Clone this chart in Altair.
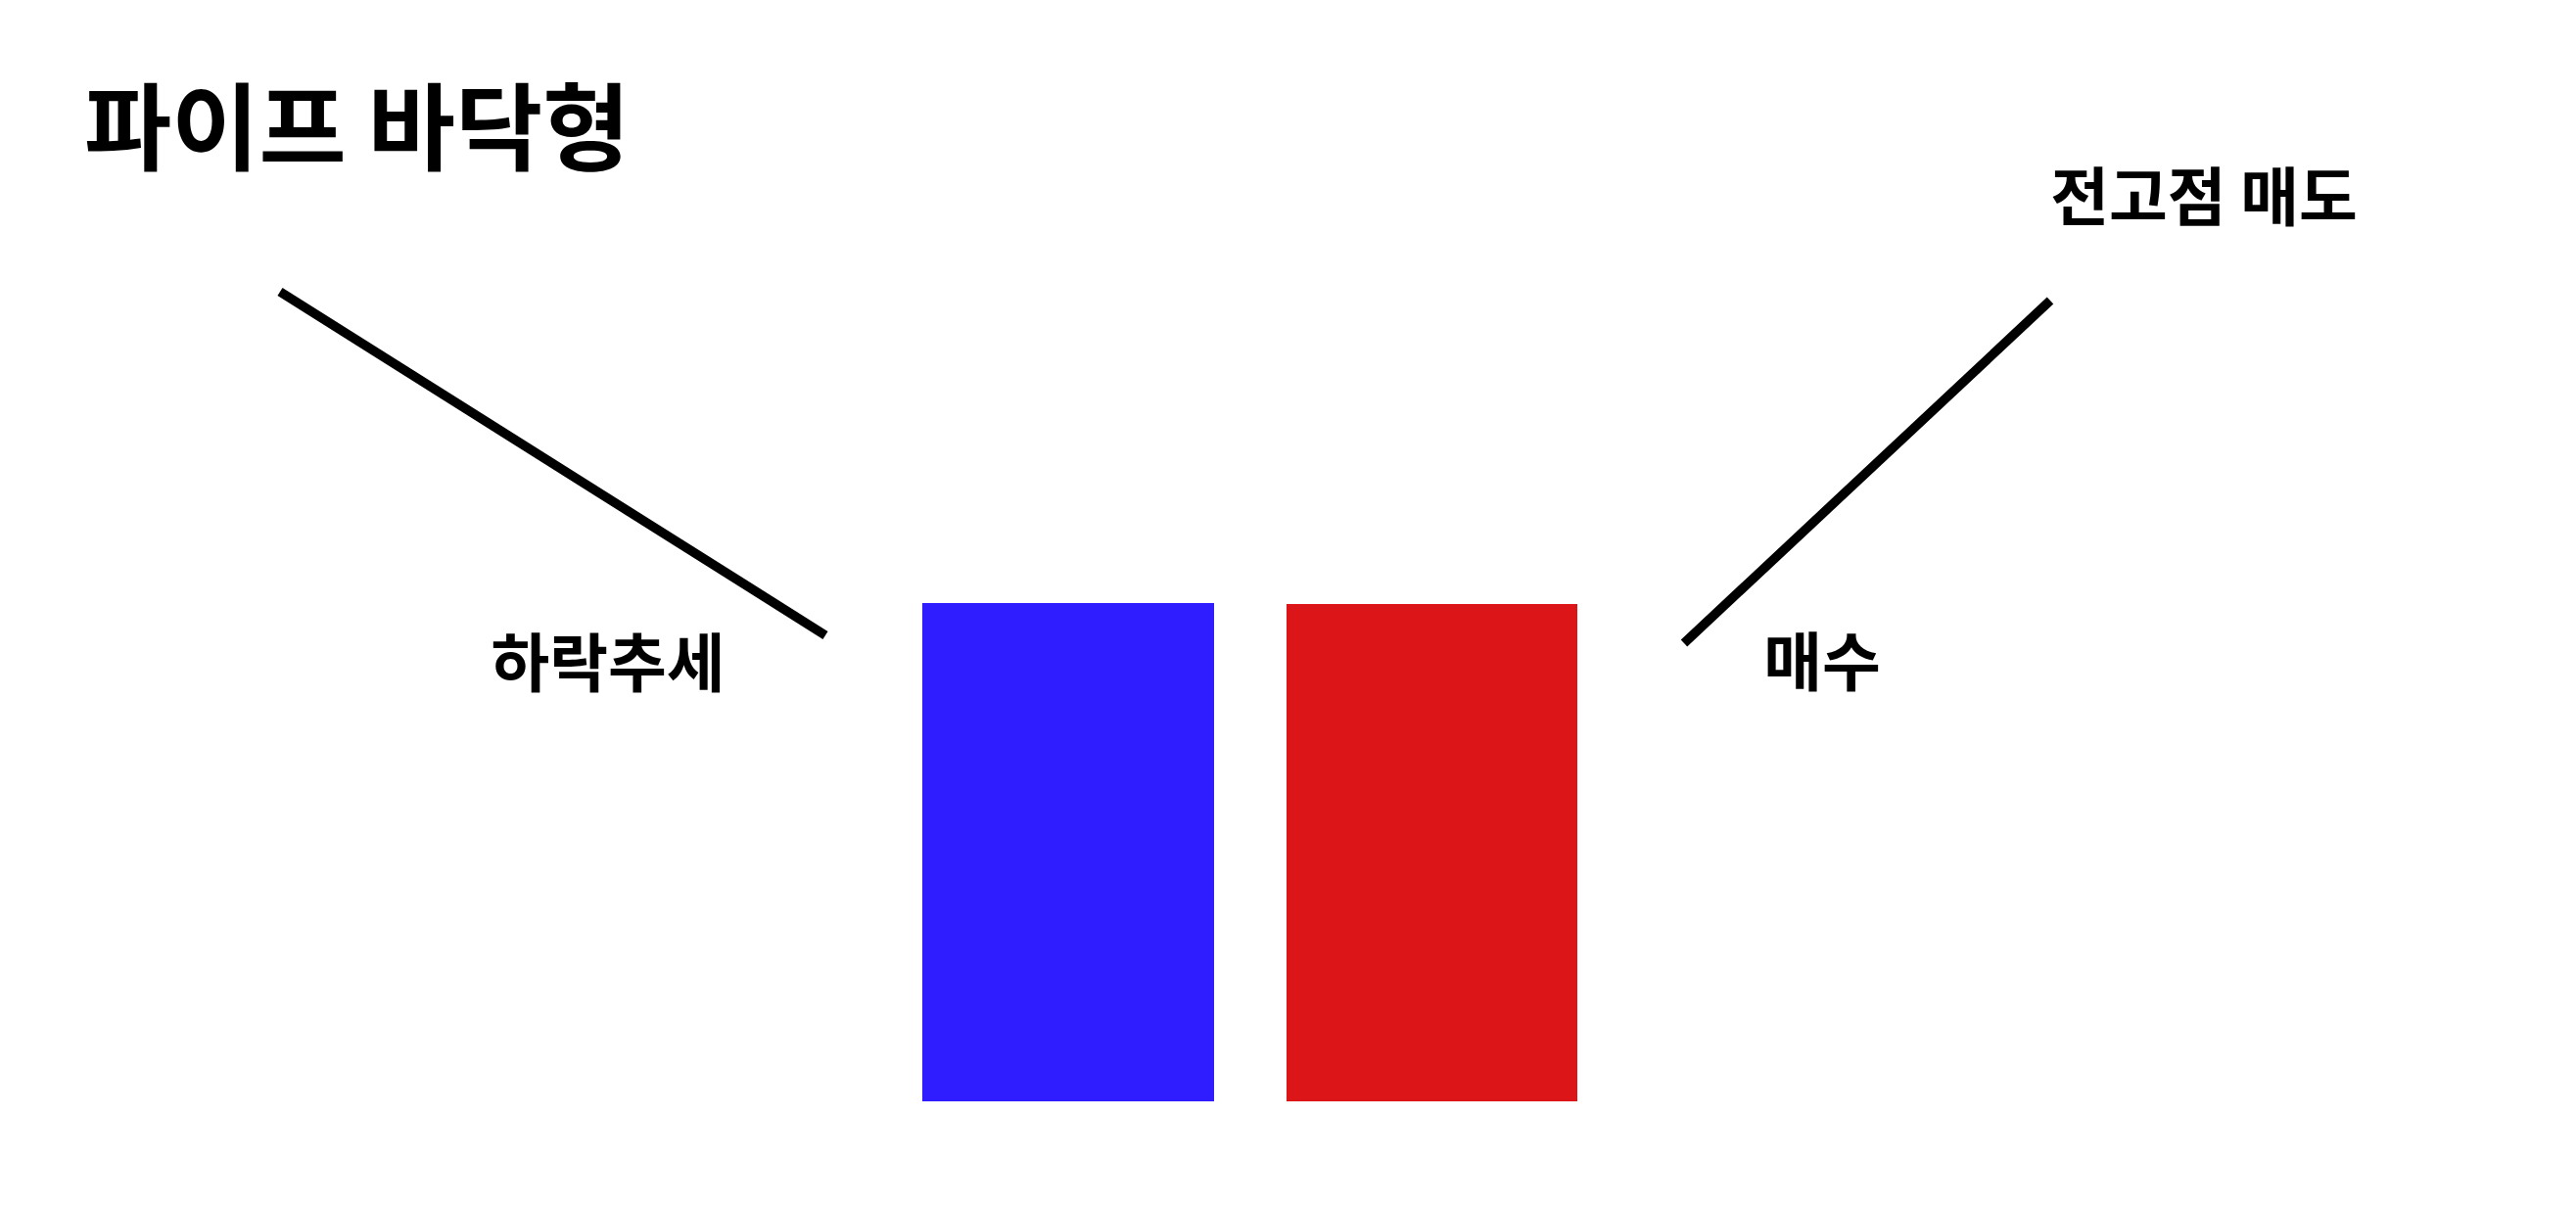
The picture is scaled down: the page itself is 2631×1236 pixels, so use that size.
import altair as alt
import pandas as pd

W, H = 2631, 1236

# Candles (notional time / price units)
candle_names = ["하락 캔들", "매수 캔들"]
candle_start = [942, 1314]
candle_end = [1240, 1611]
candle_low = [111, 111]
candle_high = [620, 619]
candle_colors = ["#2f1cff", "#db1518"]

# Trend lines
line_names = ["하락추세", "상승"]
line_x_from = [286, 1720]
line_y_from = [938, 579]
line_x_to = [843, 2094]
line_y_to = [587, 929]

# Labels
label_texts = ["하락추세", "매수", "전고점 매도"]
label_x = [621, 1861, 2251]
label_y = [555, 556, 1031]

title_text = "파이프 바닥형"
title_x = [86]
title_y = [1099]

candles = pd.DataFrame({
    "name": candle_names, "x0": candle_start, "x1": candle_end,
    "low": candle_low, "high": candle_high, "color": candle_colors,
})
lines = pd.DataFrame({
    "name": line_names, "x0": line_x_from, "y0": line_y_from,
    "x1": line_x_to, "y1": line_y_to,
})
labels = pd.DataFrame({"text": label_texts, "x": label_x, "y": label_y})
title_df = pd.DataFrame({"text": [title_text], "x": title_x, "y": title_y})

xs = alt.Scale(domain=[0, W], nice=False, zero=False)
ys = alt.Scale(domain=[0, H], nice=False, zero=False)
FONT = "Noto Sans CJK KR"

bars = alt.Chart(candles).mark_rect().encode(
    x=alt.X("x0:Q", scale=xs, axis=None),
    x2="x1:Q",
    y=alt.Y("low:Q", scale=ys, axis=None),
    y2="high:Q",
    color=alt.Color("color:N", scale=None),
)

rules = alt.Chart(lines).mark_rule(color="#000000", strokeWidth=9.5, strokeCap="butt").encode(
    x=alt.X("x0:Q", scale=xs, axis=None),
    y=alt.Y("y0:Q", scale=ys, axis=None),
    x2="x1:Q",
    y2="y1:Q",
)

texts = alt.Chart(labels).mark_text(
    font=FONT, fontSize=65, fontWeight="bold", color="#000000",
    align="center", baseline="middle",
).encode(
    x=alt.X("x:Q", scale=xs, axis=None),
    y=alt.Y("y:Q", scale=ys, axis=None),
    text="text:N",
)

title = alt.Chart(title_df).mark_text(
    font=FONT, fontSize=97, fontWeight="bold", color="#000000",
    align="left", baseline="middle",
).encode(
    x=alt.X("x:Q", scale=xs, axis=None),
    y=alt.Y("y:Q", scale=ys, axis=None),
    text="text:N",
)

chart = alt.layer(bars, rules, texts, title).properties(
    width=W, height=H, padding=0,
    autosize=alt.AutoSizeParams(type="none"),
    background="#ffffff",
).configure_view(stroke=None)

chart.save("out.html", embed_options={"renderer": "svg", "actions": False})
